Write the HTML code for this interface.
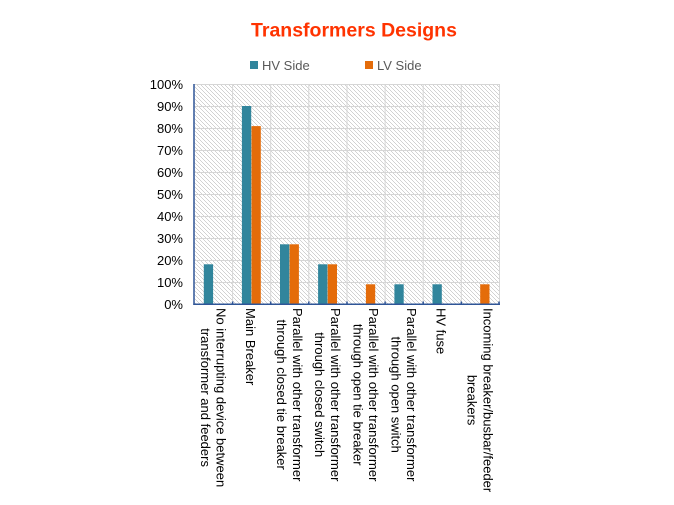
<!DOCTYPE html>
<html>
<head>
<meta charset="utf-8">
<style>
  html, body { margin:0; padding:0; background:#fff; }
  body { width:674px; height:505px; position:relative; overflow:hidden; font-family:"Liberation Sans", Arial, sans-serif; }
  svg { position:absolute; left:0; top:0; }
</style>
</head>
<body>
<svg width="674" height="505" viewBox="0 0 674 505" xmlns="http://www.w3.org/2000/svg">
  <defs>
    <pattern id="hatch" patternUnits="userSpaceOnUse" x="0" y="0" width="4" height="4">
      <rect x="0" y="0" width="1" height="1" fill="#d2d2d2"/>
      <rect x="1" y="1" width="1" height="1" fill="#d2d2d2"/>
      <rect x="2" y="2" width="1" height="1" fill="#d2d2d2"/>
      <rect x="3" y="3" width="1" height="1" fill="#d2d2d2"/>
    </pattern>
  </defs>

  <!-- title -->
  <text x="354" y="36.5" text-anchor="middle" font-family="Liberation Sans, Arial, sans-serif" font-weight="bold" font-size="19.5" fill="#FF3300">Transformers Designs</text>

  <!-- legend -->
  <rect x="250" y="61" width="8" height="8" fill="#31859C"/>
  <text x="262" y="70" font-family="Liberation Sans, Arial, sans-serif" font-size="13" fill="#595959">HV Side</text>
  <rect x="365" y="61" width="8" height="8" fill="#E46C0A"/>
  <text x="377" y="70" font-family="Liberation Sans, Arial, sans-serif" font-size="13" fill="#595959">LV Side</text>

  <!-- plot background -->
  <rect x="194" y="84" width="305" height="220" fill="url(#hatch)"/>

  <!-- gridlines -->
  <g stroke="#d6d6d6" stroke-width="1">
    <line x1="194" y1="84.5" x2="499.5" y2="84.5"/>
    <line x1="194" y1="106.5" x2="499.5" y2="106.5"/>
    <line x1="194" y1="128.5" x2="499.5" y2="128.5"/>
    <line x1="194" y1="150.5" x2="499.5" y2="150.5"/>
    <line x1="194" y1="172.5" x2="499.5" y2="172.5"/>
    <line x1="194" y1="194.5" x2="499.5" y2="194.5"/>
    <line x1="194" y1="216.5" x2="499.5" y2="216.5"/>
    <line x1="194" y1="238.5" x2="499.5" y2="238.5"/>
    <line x1="194" y1="260.5" x2="499.5" y2="260.5"/>
    <line x1="194" y1="282.5" x2="499.5" y2="282.5"/>
    <line x1="232.6" y1="84" x2="232.6" y2="304"/>
    <line x1="270.7" y1="84" x2="270.7" y2="304"/>
    <line x1="308.8" y1="84" x2="308.8" y2="304"/>
    <line x1="347" y1="84" x2="347" y2="304"/>
    <line x1="385.1" y1="84" x2="385.1" y2="304"/>
    <line x1="423.2" y1="84" x2="423.2" y2="304"/>
    <line x1="461.3" y1="84" x2="461.3" y2="304"/>
    <line x1="499.5" y1="84" x2="499.5" y2="304"/>
  </g>

  <!-- bars -->
  <g>
    <rect x="203.8" y="264.3" width="9.3" height="40" fill="#31859C"/>
    <rect x="241.9" y="106" width="9.3" height="198.3" fill="#31859C"/>
    <rect x="251.5" y="126.1" width="9.3" height="178.2" fill="#E46C0A"/>
    <rect x="280" y="244.3" width="9.3" height="60" fill="#31859C"/>
    <rect x="289.6" y="244.3" width="9.3" height="60" fill="#E46C0A"/>
    <rect x="318.1" y="264.3" width="9.3" height="40" fill="#31859C"/>
    <rect x="327.7" y="264.3" width="9.3" height="40" fill="#E46C0A"/>
    <rect x="365.9" y="284.3" width="9.3" height="20" fill="#E46C0A"/>
    <rect x="394.4" y="284.3" width="9.3" height="20" fill="#31859C"/>
    <rect x="432.5" y="284.3" width="9.3" height="20" fill="#31859C"/>
    <rect x="480.2" y="284.3" width="9.3" height="20" fill="#E46C0A"/>
  </g>

  <!-- axes -->
  <g stroke="#2F5597" stroke-width="1.5">
    <line x1="194" y1="84" x2="194" y2="305"/>
    <line x1="193.3" y1="304.3" x2="500" y2="304.3"/>
    <line x1="232.6" y1="301.5" x2="232.6" y2="304"/>
    <line x1="270.7" y1="301.5" x2="270.7" y2="304"/>
    <line x1="308.8" y1="301.5" x2="308.8" y2="304"/>
    <line x1="347" y1="301.5" x2="347" y2="304"/>
    <line x1="385.1" y1="301.5" x2="385.1" y2="304"/>
    <line x1="423.2" y1="301.5" x2="423.2" y2="304"/>
    <line x1="461.3" y1="301.5" x2="461.3" y2="304"/>
    <line x1="499" y1="301.5" x2="499" y2="304"/>
  </g>

  <!-- y labels -->
  <g font-family="Liberation Sans, Arial, sans-serif" font-size="13" fill="#000" text-anchor="end">
    <text x="183" y="88.8">100%</text>
    <text x="183" y="110.8">90%</text>
    <text x="183" y="132.8">80%</text>
    <text x="183" y="154.8">70%</text>
    <text x="183" y="176.8">60%</text>
    <text x="183" y="198.8">50%</text>
    <text x="183" y="220.8">40%</text>
    <text x="183" y="242.8">30%</text>
    <text x="183" y="264.8">20%</text>
    <text x="183" y="286.8">10%</text>
    <text x="183" y="308.8">0%</text>
  </g>

  <!-- x category labels (rotated clockwise, lines centered) -->
  <g font-family="Liberation Sans, Arial, sans-serif" font-size="13" fill="#000" text-anchor="middle">
    <!-- cat1 cx 213.06, center y 397.6 -->
    <text transform="translate(216.6,397.6) rotate(90)">No interrupting device between</text>
    <text transform="translate(200.8,397.6) rotate(90)">transformer and feeders</text>
    <!-- cat2 cx 251.19 -->
    <text transform="translate(246,346.7) rotate(90)">Main Breaker</text>
    <!-- cat3 cx 289.31 -->
    <text transform="translate(292.8,394.7) rotate(90)">Parallel with other transformer</text>
    <text transform="translate(277,394.7) rotate(90)">through closed tie breaker</text>
    <!-- cat4 cx 327.44 -->
    <text transform="translate(330.9,394.7) rotate(90)">Parallel with other transformer</text>
    <text transform="translate(315.1,394.7) rotate(90)">through closed switch</text>
    <!-- cat5 cx 365.56 -->
    <text transform="translate(369.1,394.7) rotate(90)">Parallel with other transformer</text>
    <text transform="translate(353.3,394.7) rotate(90)">through open tie breaker</text>
    <!-- cat6 cx 403.69 -->
    <text transform="translate(407.2,394.7) rotate(90)">Parallel with other transformer</text>
    <text transform="translate(391.4,394.7) rotate(90)">through open switch</text>
    <!-- cat7 cx 441.81 -->
    <text transform="translate(436.6,331.1) rotate(90)">HV fuse</text>
    <!-- cat8 cx 479.94 -->
    <text transform="translate(483.4,400.1) rotate(90)">Incoming breaker/busbar/feeder</text>
    <text transform="translate(467.6,400.1) rotate(90)">breakers</text>
  </g>
</svg>
</body>
</html>
